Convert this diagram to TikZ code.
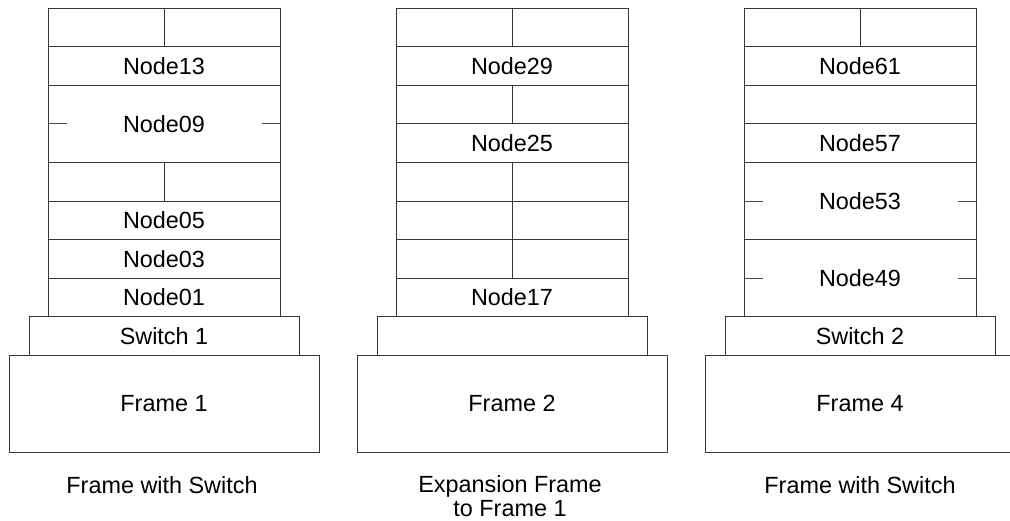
\documentclass[tikz,border=0pt]{standalone}
\usepackage{fontspec}
\setmainfont{Liberation Sans}
\begin{document}
\begin{tikzpicture}[x=1pt,y=-1pt,
  cell/.style={draw=black!78, line width=1pt, inner sep=0pt, font=\fontsize{23.4}{28}\selectfont},
  row/.style={cell, minimum width=232pt, minimum height=38.6pt},
  half/.style={cell, minimum width=116pt, minimum height=38.6pt},
  dbl/.style={cell, minimum width=232pt, minimum height=77.2pt},
  switchbox/.style={cell, minimum width=270pt, minimum height=38.6pt},
  framebox/.style={cell, minimum width=310pt, minimum height=97pt},
  tick/.style={draw=black!70, line width=1pt},
  caption/.style={inner sep=0pt, align=center, font=\fontsize{23.4}{24}\selectfont}]
\useasboundingbox (0,0) rectangle (1010,520);
% ---------- Stack 1 ----------
\node[framebox] (f1) at (164,403.85) {Frame 1};
\node[switchbox] (s1) at (164,336.1) {Switch 1};
\node[half] (a1l) at (106,27.3) {};
\node[half] (a1r) at (222,27.3) {};
\node[row] (n13) at (164,65.9) {Node13};
\node[dbl] (n09) at (164,123.8) {Node09};
\node[half] (a5l) at (106,181.7) {};
\node[half] (a5r) at (222,181.7) {};
\node[row] (n05) at (164,220.3) {Node05};
\node[row] (n03) at (164,258.9) {Node03};
\node[row] (n01) at (164,297.5) {Node01};
\draw[tick] (n09.west) -- ++(19,0);
\draw[tick] (n09.east) -- ++(-19,0);
% ---------- Stack 2 ----------
\node[framebox] (f2) at (512,403.85) {Frame 2};
\node[switchbox] (s2) at (512,336.1) {};
\node[half] (b1l) at (454,27.3) {};
\node[half] (b1r) at (570,27.3) {};
\node[row] (n29) at (512,65.9) {Node29};
\node[half] (b3l) at (454,104.5) {};
\node[half] (b3r) at (570,104.5) {};
\node[row] (n25) at (512,143.1) {Node25};
\node[half] (b5l) at (454,181.7) {};
\node[half] (b5r) at (570,181.7) {};
\node[half] (b6l) at (454,220.3) {};
\node[half] (b6r) at (570,220.3) {};
\node[half] (b7l) at (454,258.9) {};
\node[half] (b7r) at (570,258.9) {};
\node[row] (n17) at (512,297.5) {Node17};
% ---------- Stack 3 ----------
\node[framebox] (f4) at (860,403.85) {Frame 4};
\node[switchbox] (s3) at (860,336.1) {Switch 2};
\node[half] (c1l) at (802,27.3) {};
\node[half] (c1r) at (918,27.3) {};
\node[row] (n61) at (860,65.9) {Node61};
\node[row] (c3) at (860,104.5) {};
\node[row] (n57) at (860,143.1) {Node57};
\node[dbl] (n53) at (860,201) {Node53};
\node[dbl] (n49) at (860,278.2) {Node49};
\draw[tick] (n53.west) -- ++(19,0);
\draw[tick] (n53.east) -- ++(-19,0);
\draw[tick] (n49.west) -- ++(19,0);
\draw[tick] (n49.east) -- ++(-19,0);
% ---------- captions ----------
\node[caption, anchor=base] (cap1) at (162,493) {Frame with Switch};
\node[caption, anchor=base] (cap2) at (510,516) {Expansion Frame\\to Frame 1};
\node[caption, anchor=base] (cap3) at (860,493) {Frame with Switch};
\end{tikzpicture}
\end{document}
